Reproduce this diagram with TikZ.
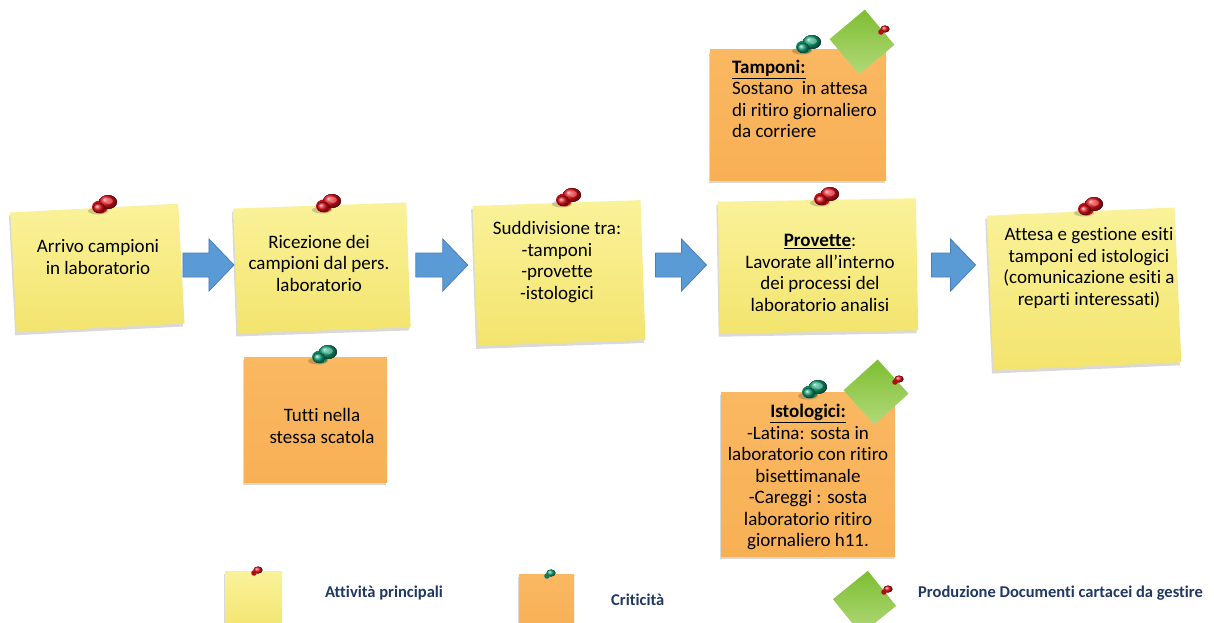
\documentclass[tikz,border=0pt]{standalone}
\usepackage{fontspec}
\setmainfont{Carlito}[Ligatures=CommonOff]
\usetikzlibrary{shadows,calc}
\definecolor{ylTop}{HTML}{FAF29A}
\definecolor{ylBot}{HTML}{F3E46E}
\definecolor{orTop}{HTML}{FAB862}
\definecolor{orBot}{HTML}{F8B055}
\definecolor{grDark}{HTML}{7DBE32}
\definecolor{grLight}{HTML}{B2D97A}
\definecolor{arFill}{HTML}{5B9BD5}
\definecolor{arLine}{HTML}{4A7EBB}
\definecolor{pinRed}{HTML}{E8141C}
\definecolor{pinTeal}{HTML}{17A579}
\definecolor{legNavy}{HTML}{1F3864}
\newcommand\blockarrow[3]{%
  \coordinate (am) at ($(#1.east)!.5!(#2.west)$);
  \begin{scope}[shift={(am |- ay)}]
    \filldraw[barrow] ({-#3/2},-12) -- ({#3/2-25},-12) -- ({#3/2-25},-26) -- ({#3/2},0)
      -- ({#3/2-25},26) -- ({#3/2-25},12) -- ({-#3/2},12) -- cycle;
  \end{scope}}
\begin{document}
\begin{tikzpicture}[x=1pt,y=-1pt,
  notebase/.style={inner sep=0pt, drop shadow={opacity=0.3, shadow xshift=-1.5pt, shadow yshift=-3pt}},
  yellownote/.style={notebase, top color=ylTop, bottom color=ylBot},
  orangenote/.style={notebase, top color=orTop, bottom color=orBot},
  doc/.style={inner sep=0pt, top color=grDark, bottom color=grLight, minimum width=46, minimum height=46},
  txt/.style={font=\fontsize{19}{21.5}\selectfont, align=center, text=black, inner sep=0pt},
  ltxt/.style={font=\fontsize{19}{21.5}\selectfont, align=left, text=black, inner sep=0pt},
  legtxt/.style={font=\bfseries\fontsize{16.5}{18}\selectfont, text=legNavy, anchor=west, inner sep=0pt},
  barrow/.style={fill=arFill, draw=arLine, line width=0.8pt, line join=miter},
  pics/pushpin/.style={code={
    \fill[black, opacity=0.18] (-6,7) ellipse (10 and 3.5);
    \fill[#1!80!black] (-4,3) ellipse (8 and 6.5);
    \fill[ball color=#1] (4,-2) ellipse (9 and 7);
    \fill[#1!55!white, opacity=0.6] (5,-3) ellipse (4 and 3);
    \fill[ball color=#1] (-5,4) ellipse (6 and 5);
  }},
  pics/smallpin/.style={code={
    \fill[ball color=#1] (1,-1) ellipse (4.5 and 3.5);
    \fill[#1!75!black] (-3,2) circle (2.8);
  }}
]
\useasboundingbox (0,0) rectangle (1214,623);
\coordinate (ay) at (0,265);

% main yellow notes
\node[yellownote, minimum width=168, minimum height=120, rotate=3] (n1) at (97.5,268) {};
\node[yellownote, minimum width=173, minimum height=125, rotate=2] (n2) at (322,268) {};
\node[yellownote, minimum width=168, minimum height=140, rotate=2] (n3) at (559,273) {};
\node[yellownote, minimum width=198, minimum height=132, rotate=1] (n4) at (818,266) {};
\node[yellownote, minimum width=188, minimum height=155, rotate=2.5] (n5) at (1084,289) {};

% orange notes
\node[orangenote, minimum width=176, minimum height=130] (tamp) at (798,115) {};
\node[orangenote, minimum width=143, minimum height=125] (tutti) at (315.5,419.5) {};
\node[orangenote, minimum width=174, minimum height=164] (isto) at (808,474) {};

% texts
\node[txt] (t1) at (98,257) {Arrivo campioni\\in laboratorio};
\node[txt] (t2) at (319,263) {Ricezione dei\\campioni dal pers.\\laboratorio};
\node[txt] (t3) at (557,262) {Suddivisione tra:\\-tamponi\\-provette\\-istologici};
\node[txt] (t4) at (820,273) {\underline{\textbf{Provette}}:\\Lavorate all'interno\\dei processi del\\laboratorio analisi};
\node[txt] (t5) at (1089,268) {Attesa e gestione esiti\\tamponi ed istologici\\(comunicazione esiti a\\reparti interessati)};
\node[ltxt, anchor=west] (t6) at (732,99) {\underline{\textbf{Tamponi:}}\\Sostano\ \ in attesa\\di ritiro giornaliero\\da corriere};
\node[txt] (t7) at (322,426) {Tutti nella\\stessa scatola};
\node[txt] (t8) at (808,477) {\underline{\textbf{Istologici:}}\\-Latina: sosta in\\laboratorio con ritiro\\bisettimanale\\-Careggi : sosta\\laboratorio ritiro\\giornaliero h11.};

% green document markers
\node[doc, rotate=40] (d1) at (862,42) {};
\node[doc, rotate=42] (d2) at (876,392) {};

% pins
\pic at (104,204) {pushpin=pinRed};
\pic at (328,203) {pushpin=pinRed};
\pic at (568,197) {pushpin=pinRed};
\pic at (826,196) {pushpin=pinRed};
\pic at (1090,206) {pushpin=pinRed};
\pic at (808,44) {pushpin=pinTeal};
\pic at (324,354) {pushpin=pinTeal};
\pic at (814,389) {pushpin=pinTeal};
\pic at (884,30) {smallpin=pinRed};
\pic at (898,380) {smallpin=pinRed};

% arrows
\blockarrow{n1}{n2}{51}
\blockarrow{n2}{n3}{52}
\blockarrow{n3}{n4}{51}
\blockarrow{n4}{n5}{44}

% legend
\node[yellownote, minimum width=57, minimum height=60, anchor=north west] (l1) at (225,571) {};
\pic at (257,571) {smallpin=pinRed};
\node[legtxt] (lt1) at (325,593) {Attività principali};
\node[orangenote, minimum width=55, minimum height=55, anchor=north west] (l2) at (519,574) {};
\pic at (550,574) {smallpin=pinTeal};
\node[legtxt] (lt2) at (611,600) {Criticità};
\node[doc, rotate=39, minimum width=45, minimum height=45] (l3) at (864.5,602.5) {};
\pic at (887,590) {smallpin=pinRed};
\node[legtxt] (lt3) at (918,593) {Produzione Documenti cartacei da gestire};
\end{tikzpicture}
\end{document}
